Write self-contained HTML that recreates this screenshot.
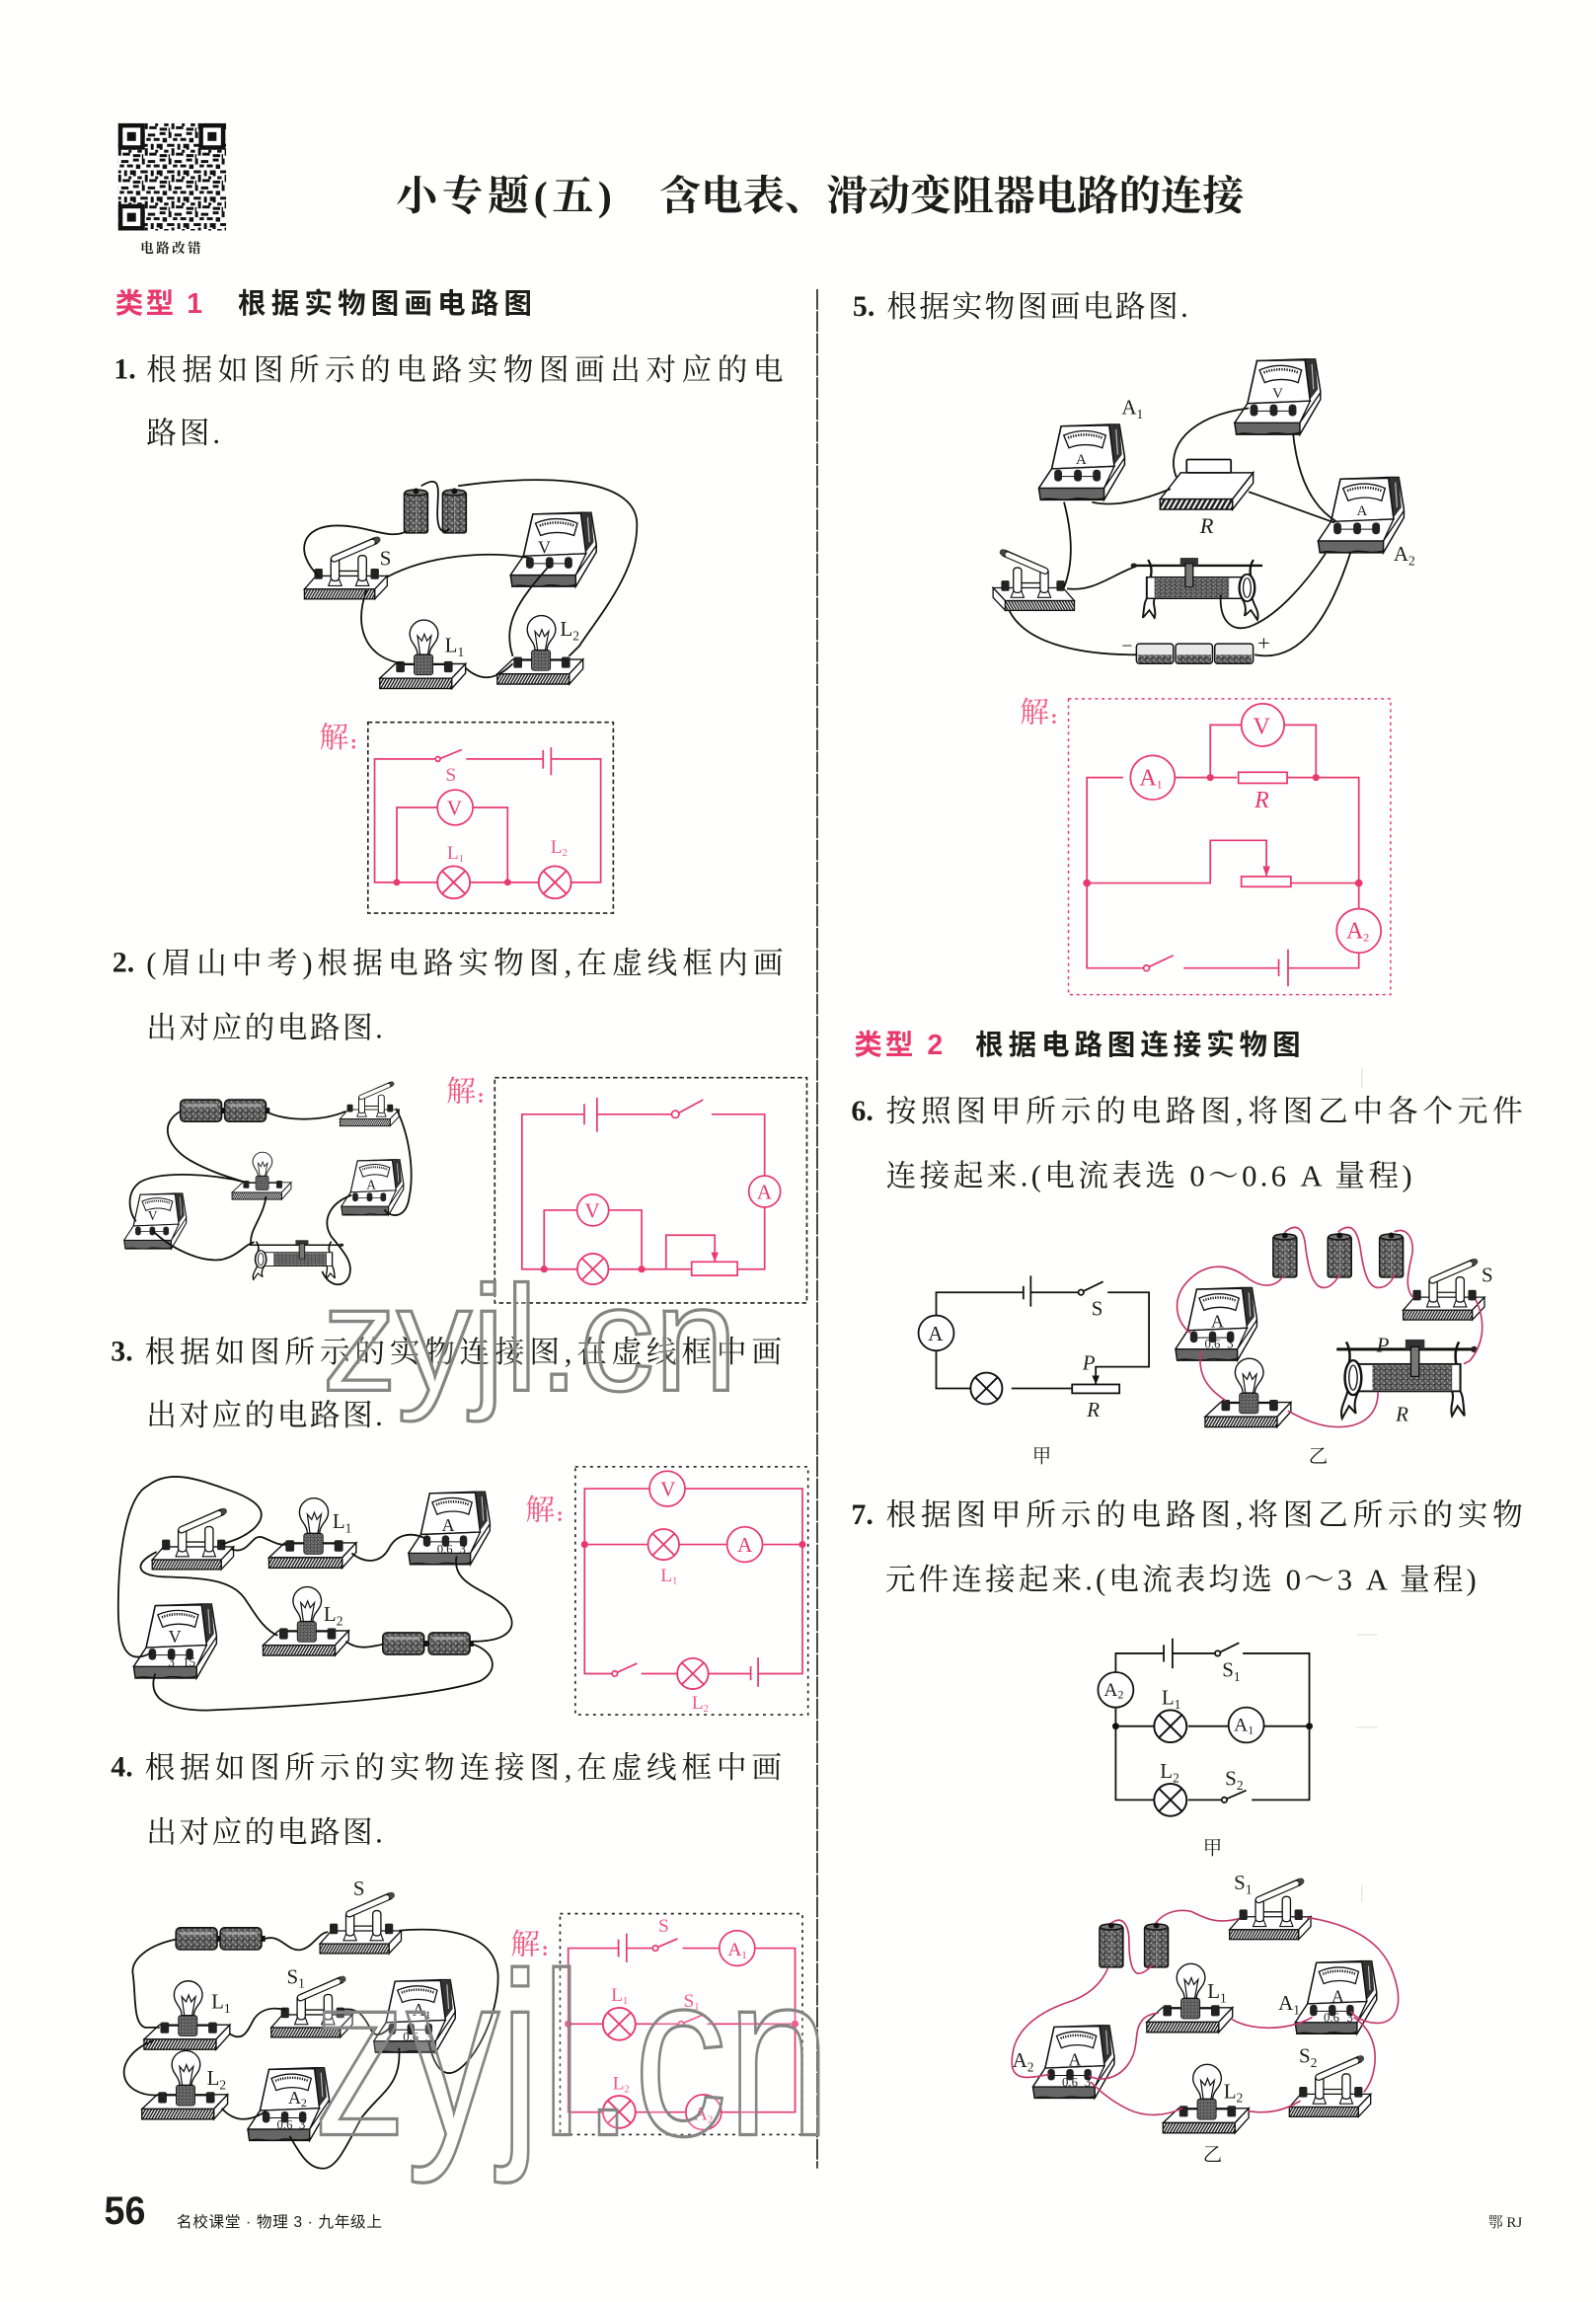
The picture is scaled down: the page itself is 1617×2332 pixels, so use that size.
<!DOCTYPE html>
<html lang="zh"><head><meta charset="utf-8"><title>小专题(五)</title>
<style>
html,body{margin:0;padding:0;background:#fffffd}
svg{display:block}
text{font-family:"Liberation Serif","Noto Serif CJK SC",serif;fill:#1c1c1c}
.b{font-size:20.5px}
.n{font-size:20px;font-weight:bold}
.t{font-size:28px;font-weight:bold}
.h{font-family:"Liberation Sans","Noto Sans CJK SC",sans-serif;font-size:19px;font-weight:bold}
.p{fill:#e8396f;font-size:19px;font-weight:bold;font-family:"Liberation Sans","Noto Sans CJK SC",sans-serif}
.j{fill:#ef5a86;font-size:20px;font-family:"Liberation Serif","Noto Serif CJK SC",serif}
.l{font-size:14px}
.s{font-size:14px;font-style:italic}
.d{font-size:8.5px;text-anchor:middle}
.pl{font-size:13px;fill:#ef5a86}
.pm{font-size:16px;fill:#e8396f}
.m{font-size:15px}
.w{fill:none;stroke:#222;stroke-width:1.1}
.r{fill:none;stroke:#e8396f;stroke-width:1.15}
.c{fill:none;stroke:#c4376b;stroke-width:1.1}
.k{fill:none;stroke:#111;stroke-width:1.2}
.wm{font-family:"Liberation Sans",sans-serif;fill:rgba(255,255,255,.2);stroke:#858585;stroke-width:2.2}
</style></head><body>
<svg xmlns="http://www.w3.org/2000/svg" width="1617" height="2332" viewBox="0 0 1080 1568" preserveAspectRatio="none">
<defs>
<pattern id="ha" width="3.5" height="12" patternUnits="userSpaceOnUse" patternTransform="skewX(-30)"><rect width="3.5" height="12" fill="#fff"/><rect width="2" height="12" fill="#222"/></pattern>
<pattern id="sp" width="4" height="4" patternUnits="userSpaceOnUse"><rect width="4" height="4" fill="#555"/><rect x="0" y="1" width="1" height="1" fill="#aaa"/><rect x="2" y="3" width="1" height="1" fill="#bbb"/><rect x="3" y="0" width="1" height="1" fill="#222"/><rect x="1" y="2" width="1" height="1" fill="#888"/></pattern>
<pattern id="qr" width="18" height="18" patternUnits="userSpaceOnUse"><rect width="18" height="18" fill="#fff"/><path fill="#111" d="M0 0h4v2h-4zM6 0h2v4h-2zM10 1h5v2h-5zM2 4h3v3h-3zM9 4h3v2h-3zM14 4h4v2h-4zM0 8h2v4h-2zM5 8h5v2h-5zM12 8h2v4h-2zM16 8h2v3h-2zM3 12h3v2h-3zM8 11h2v5h-2zM11 14h5v2h-5zM0 15h5v2h-5zM6 15h1v3h-1zM15 12h2v2h-2z"/></pattern>

<g id="sw">
<polygon points="0,-12 14,-28 100,-28 85,-12" fill="#fff" stroke="#111" stroke-width="1.6"/>
<polygon points="85,-12 100,-28 100,-16 85,0" fill="#fff" stroke="#111" stroke-width="1.6"/>
<rect x="0" y="-12" width="85" height="12" fill="url(#ha)" stroke="#111" stroke-width="1.6"/>
<rect x="12" y="-37" width="10" height="13" rx="2" fill="#222"/>
<rect x="80" y="-37" width="10" height="13" rx="2" fill="#222"/>
<line x1="40" y1="-34" x2="68" y2="-34" stroke="#111" stroke-width="1.6"/>
<polygon points="29,-16 45,-16 42,-24 32,-24" fill="#fff" stroke="#111" stroke-width="1.4"/>
<polygon points="62,-16 78,-16 75,-24 65,-24" fill="#fff" stroke="#111" stroke-width="1.4"/>
<rect x="32" y="-52" width="10" height="30" rx="4" fill="#fff" stroke="#111" stroke-width="1.6"/>
<rect x="65" y="-53" width="10" height="31" rx="4" fill="#fff" stroke="#111" stroke-width="1.6"/>
<line x1="36" y1="-49" x2="86" y2="-71" stroke="#111" stroke-width="9" stroke-linecap="round"/>
<line x1="36" y1="-49" x2="82" y2="-69" stroke="#fff" stroke-width="6" stroke-linecap="round"/>
<circle cx="88" cy="-72" r="4" fill="#444"/>
</g>

<g id="lp">
<polygon points="0,-12 18,-29 100,-29 84,-12" fill="#fff" stroke="#111" stroke-width="1.6"/>
<polygon points="84,-12 100,-29 100,-18 84,0" fill="#fff" stroke="#111" stroke-width="1.6"/>
<rect x="0" y="-12" width="84" height="12" fill="url(#ha)" stroke="#111" stroke-width="1.6"/>
<rect x="19" y="-32" width="10" height="13" rx="2" fill="#222"/>
<rect x="75" y="-32" width="10" height="13" rx="2" fill="#222"/>
<line x1="28" y1="-28" x2="76" y2="-28" stroke="#111" stroke-width="1.6"/>
<rect x="40" y="-40" width="22" height="24" rx="3" fill="url(#sp)" stroke="#111"/>
<path d="M44 -40 C44 -50 35 -54 35 -64 A16.500 16.500 0 1 1 68 -64 C68 -54 58 -50 58 -40 Z" fill="#fff" stroke="#111" stroke-width="1.6"/>
<path d="M47 -40 L44 -62 L49 -56 L52 -64 L55 -56 L60 -62 L56 -40" fill="none" stroke="#111" stroke-width="1.4"/>
</g>

<g id="mt">
<polygon points="26,4 82,2 94,2 100,40 100,50 76,92 2,92 0,78 15,55" fill="#fff" stroke="#111" stroke-width="1.8"/>
<polygon points="82,3 94,2 97,38 88,50" fill="#333"/>
<line x1="90" y1="8" x2="92" y2="38" stroke="#bbb" stroke-width="1.4"/>
<polygon points="26,4 82,3 88,52 15,55" fill="#fff" stroke="#111" stroke-width="1.8"/>
<polygon points="76,78 100,42 100,50 76,92" fill="#fff" stroke="#111" stroke-width="1.6"/>
<path d="M0 78 H76 V90 C60 94 50 88 40 91 C25 94 12 88 2 92 Z" fill="#666" stroke="#111" stroke-width="1.6"/>
<path d="M0 78 L15 55 L88 52 L76 78 Z" fill="#fff" stroke="#111" stroke-width="1.6"/>
<path d="M29 15 C45 8 62 8 78 15 L74 30 C62 25 47 25 35 30 Z" fill="#fff" stroke="#111" stroke-width="1.6"/>
<path d="M34 18 C46 13 62 13 74 18" fill="none" stroke="#111" stroke-width="3" stroke-dasharray="1.500 1.500"/>
<line x1="22" y1="64" x2="72" y2="64" stroke="#111" stroke-width="1.2"/>
<rect x="18" y="56" width="9" height="14" rx="4" fill="#222"/>
<rect x="41" y="56" width="9" height="14" rx="4" fill="#222"/>
<rect x="63" y="56" width="9" height="14" rx="4" fill="#222"/>
</g>

<g id="bv"><rect x="0" y="2" width="16" height="28" rx="1.500" fill="url(#sp)" stroke="#111"/><line x1="8" y1="3" x2="8" y2="30" stroke="#999" stroke-width=".6"/><ellipse cx="8" cy="2.500" rx="7.500" ry="2" fill="#777" stroke="#111"/><circle cx="8" cy="1.500" r="2" fill="#111"/></g>
<g id="bh"><rect x="0" y="0" width="28" height="15" rx="3" fill="url(#sp)" stroke="#111"/><rect x="3" y="3" width="22" height="2" fill="#bbb" opacity=".7"/><rect x="28" y="5.500" width="2.500" height="4" fill="#111"/></g>

<g id="rh">
<line x1="0" y1="12" x2="100" y2="12" stroke="#111" stroke-width="2.400"/>
<circle cx="100" cy="12" r="2.500" fill="#222"/>
<path d="M7 6 C10 12 10 18 9 24" fill="none" stroke="#111" stroke-width="1.800"/>
<path d="M89 6 C86 12 86 18 87 24" fill="none" stroke="#111" stroke-width="1.800"/>
<path d="M8 46 C6 55 2 60 4 68 L9 58 L14 64 C12 56 14 50 16 46" fill="#fff" stroke="#111" stroke-width="1.500"/>
<path d="M84 46 C86 53 82 58 84 66 L88 58 L93 66 C92 55 92 50 90 46" fill="#fff" stroke="#111" stroke-width="1.500"/>
<rect x="12" y="24" width="78" height="22" fill="#fff" stroke="#111" stroke-width="1.500"/>
<rect x="26" y="25" width="58" height="20" fill="url(#sp)"/>
<ellipse cx="12" cy="35" rx="6" ry="14" fill="#fff" stroke="#111" stroke-width="1.800"/>
<ellipse cx="12" cy="35" rx="3" ry="10" fill="#fff" stroke="#111" stroke-width="1"/>
<rect x="50" y="4" width="14" height="8" fill="#333"/>
<rect x="54" y="10" width="6" height="24" fill="#777" stroke="#111"/>
</g>

<g id="x"><circle r="10" fill="#fff"/><line x1="-7" y1="-7" x2="7" y2="7"/><line x1="-7" y1="7" x2="7" y2="-7"/></g>
</defs>

<rect width="1080" height="1568" fill="#fffffd"/>

<!-- faint scan marks -->
<g fill="#d8d8d8" opacity=".6">
<rect x="921" y="727" width="1" height="14"/><rect x="918" y="1113" width="14" height="1"/><rect x="918" y="1176" width="14" height="1"/><rect x="921" y="1284" width="1" height="12"/>
</g>

<!-- QR -->
<rect x="80" y="84" width="73" height="73" fill="url(#qr)"/>
<g fill="#fff" stroke="#111" stroke-width="3"><rect x="81.500" y="85.500" width="15" height="15"/><rect x="136" y="85.500" width="15" height="15"/><rect x="81.500" y="140.500" width="15" height="15"/></g>
<g fill="#111"><rect x="86" y="90" width="6" height="6"/><rect x="140.500" y="90" width="6" height="6"/><rect x="86" y="145" width="6" height="6"/></g>
<text x="95" y="172" textLength="41" lengthAdjust="spacing" style="font-size:9px;font-weight:bold">电路改错</text>

<!-- Title -->
<text class="t" x="268" y="143" textLength="146" lengthAdjust="spacing">小专题(五)</text>
<text class="t" x="446" y="143" textLength="396" lengthAdjust="spacingAndGlyphs">含电表、滑动变阻器电路的连接</text>

<line x1="553" y1="197" x2="553" y2="1477" stroke="#333" stroke-width="1.200" stroke-dasharray="14 1"/>

<!-- Left text -->
<text class="p" x="78" y="213" textLength="59" lengthAdjust="spacing">类型 1</text>
<text class="h" x="161" y="213" textLength="199" lengthAdjust="spacing">根据实物图画电路图</text>
<text class="n" x="77" y="258">1.</text>
<text class="b" x="99" y="259" textLength="431" lengthAdjust="spacing">根据如图所示的电路实物图画出对应的电</text>
<text class="b" x="99" y="302" textLength="50" lengthAdjust="spacing">路图.</text>
<text class="n" x="76" y="662">2.</text>
<text class="b" x="99" y="663" textLength="431" lengthAdjust="spacing">(眉山中考)根据电路实物图,在虚线框内画</text>
<text class="b" x="99" y="707" textLength="160" lengthAdjust="spacing">出对应的电路图.</text>
<text class="n" x="75" y="927">3.</text>
<text class="b" x="98" y="928" textLength="431" lengthAdjust="spacing">根据如图所示的实物连接图,在虚线框中画</text>
<text class="b" x="99" y="971" textLength="160" lengthAdjust="spacing">出对应的电路图.</text>
<text class="n" x="75" y="1210">4.</text>
<text class="b" x="98" y="1211" textLength="431" lengthAdjust="spacing">根据如图所示的实物连接图,在虚线框中画</text>
<text class="b" x="99" y="1255" textLength="160" lengthAdjust="spacing">出对应的电路图.</text>

<!-- Q1 objects -->
<use href="#bv" transform="translate(273.500,333)"/><use href="#bv" transform="translate(299.500,333)"/>
<use href="#sw" transform="translate(206,408) scale(.56)"/>
<use href="#mt" transform="translate(345.500,348) scale(.58,.56)"/>
<use href="#lp" transform="translate(257,469) scale(.58)"/>
<use href="#lp" transform="translate(336.500,466) scale(.58)"/>
<text x="364" y="377" style="font-size:12px">V</text>
<text class="l" x="257" y="385">S</text>
<text class="l" x="301" y="444">L<tspan font-size="9" dy="3">1</tspan></text>
<text class="l" x="379" y="433">L<tspan font-size="9" dy="3">2</tspan></text>
<g class="k">
<path d="M216 393 C198 375 205 358 228 358 C250 358 262 368 275 362"/>
<path d="M285 331 C300 322 296 335 296 350 C296 362 300 364 304 360"/>
<path d="M310 331 C350 325 432 320 431 358 C431 390 405 420 392 440 L385 447"/>
<path d="M262 393 C290 378 330 375 358 380"/>
<path d="M248 402 C240 425 245 447 272 452"/>
<path d="M315 455 C325 464 335 464 347 452"/>
<path d="M372 385 C350 410 340 425 347 447"/>
</g>
<!-- Q1 solution -->
<text class="j" x="216" y="509">解</text><text class="j" x="237" y="510" style="font-size:14px;font-weight:bold">:</text>
<g transform="translate(-1.500,0)">
<rect x="250.500" y="492" width="166" height="130" fill="none" stroke="#222" stroke-width="1.100" stroke-dasharray="3 2"/>
<g class="r">
<path d="M298.700 517 H255 V601 H408 V517 H374.400 M369 517 H317"/>
<path d="M270 601 V550 H297 M321 550 H345 V601"/>
<path d="M298.700 517 L314 510.600" />
<circle cx="297.800" cy="517" r="1.600" fill="#fff"/>
<path d="M369 511 V523.500 M374.400 509 V528"/>
<circle cx="309.500" cy="550" r="12" fill="#fff"/>
<use href="#x" transform="translate(308.500,601) scale(1.100)"/>
<use href="#x" transform="translate(377,601) scale(1.100)"/>
</g>
<g fill="#e8396f"><circle cx="270" cy="601" r="2.300"/><circle cx="345" cy="601" r="2.300"/></g>
<text class="pm" x="304" y="555" style="font-size:14px">V</text>
<text class="pl" x="303" y="532">S</text>
<text class="pl" x="304" y="585">L<tspan font-size="7" dy="2">1</tspan></text>
<text class="pl" x="374" y="581">L<tspan font-size="7" dy="2">2</tspan></text>
</g>

<!-- Q2 objects -->
<use href="#bh" transform="translate(122,749)"/><use href="#bh" transform="translate(152,749)"/>
<use href="#sw" transform="translate(230,767) scale(.4)"/>
<use href="#lp" transform="translate(157,817) scale(.4)"/>
<use href="#mt" transform="translate(84,812) scale(.42)"/>
<use href="#mt" transform="translate(231,789) scale(.42)"/>
<use href="#rh" transform="translate(169,843) scale(.62,.42)"/>
<text x="100" y="831" style="font-size:9px">V</text>
<text x="248" y="810" style="font-size:9px">A</text>
<g class="k">
<path d="M122 757 C108 765 112 780 128 790 C140 797 152 801 165 805"/>
<path d="M180 757 C190 763 215 765 234 757"/>
<path d="M268 755 C278 775 280 800 277 815 C275 830 265 830 260 824"/>
<path d="M165 805 C145 800 110 797 95 805 C85 812 87 825 92 832"/>
<path d="M180 815 C178 830 168 838 170 848"/>
<path d="M103 838 C115 850 135 860 150 858 C162 855 165 848 172 846"/>
<path d="M238 814 C222 820 218 832 224 842 C232 852 240 860 236 870 C232 878 222 876 218 866"/>
</g>
<!-- Q2 solution -->
<rect x="334.800" y="734" width="211.200" height="153.500" fill="none" stroke="#222" stroke-width="1.100" stroke-dasharray="3 2"/>
<text class="j" x="302" y="750">解</text><text class="j" x="323" y="751" style="font-size:14px;font-weight:bold">:</text>
<g transform="translate(-.8,0)">
<g class="r">
<path d="M396 759 H354 V864.500 H391 M413 864.500 H451.500 V841.300 H484.500 V859.500 M405 759 H458.400 M482.300 759 H518.200 V801 M518.200 822 V864.500 H499.600 M468.800 864.500 H451"/>
<path d="M458.400 759 L476.600 749"/>
<circle cx="457.800" cy="759" r="2.500" fill="#fff"/>
<path d="M396.200 752 V766 M404.800 747.700 V771"/>
<circle cx="518.200" cy="811.600" r="10.700" fill="#fff"/>
<path d="M369 864.500 V824.300 H392 M413 824.300 H435 V864.500"/>
<circle cx="402" cy="824.300" r="10.700" fill="#fff"/>
<use href="#x" transform="translate(402,864.400) scale(1.050)"/>
<rect x="468.800" y="859.500" width="31" height="9.300" fill="#fff"/>
</g>
<g fill="#e8396f"><circle cx="369" cy="864.500" r="2.400"/><circle cx="435" cy="864.500" r="2.400"/><polygon points="484.500,859.500 482,853 487,853"/></g>
<text class="pm" x="396.500" y="829.500" style="font-size:14px">V</text>
<text class="pm" x="513" y="816.500" style="font-size:14px">A</text>
</g>

<!-- Q3 objects -->
<use href="#sw" transform="translate(103,1069) scale(.55)"/>
<use href="#lp" transform="translate(182,1068) scale(.59)"/>
<use href="#mt" transform="translate(276.500,1015) scale(.55)"/>
<use href="#mt" transform="translate(90.500,1091.500) scale(.56)"/>
<use href="#lp" transform="translate(178,1127.600) scale(.58)"/>
<use href="#bh" transform="translate(259,1112)"/><use href="#bh" transform="translate(290,1112)"/>
<text class="l" x="225" y="1041">L<tspan font-size="9" dy="3">1</tspan></text>
<text class="l" x="219" y="1104">L<tspan font-size="9" dy="3">2</tspan></text>
<text x="299" y="1043" style="font-size:12px">A</text>
<text x="114" y="1119" style="font-size:12px">V</text>
<text class="d" x="301" y="1058">0.6</text><text class="d" x="313" y="1058">3</text>
<text class="d" x="116" y="1135">3</text><text class="d" x="128" y="1135">15</text>
<g class="k">
<path d="M102 1126 C85 1135 80 1120 80 1095 C80 1060 85 1020 100 1012 C115 1000 135 1008 155 1015 C175 1022 182 1030 173 1040 C165 1048 155 1050 150 1052"/>
<path d="M156 1055 C168 1060 170 1045 177 1047 C183 1049 188 1053 194 1052"/>
<path d="M238 1058 C248 1066 258 1064 263 1055 C268 1045 278 1043 288 1048"/>
<path d="M309 1060 C305 1080 330 1082 342 1095 C352 1108 345 1118 320 1118"/>
<path d="M106 1057 C90 1065 92 1073 110 1074 C135 1075 155 1075 165 1088 C172 1098 178 1110 188 1114"/>
<path d="M234 1118 C242 1124 250 1122 259 1120"/>
<path d="M320 1120 C335 1125 338 1138 325 1145 C290 1157 190 1163 140 1165 C110 1165 100 1155 105 1140"/>
</g>
<!-- Q3 solution -->
<rect x="389.300" y="999" width="157.500" height="169" fill="none" stroke="#222" stroke-width="1.100" stroke-dasharray="2 3"/>
<text class="j" x="355.500" y="1035">解</text><text class="j" x="376.500" y="1036" style="font-size:14px;font-weight:bold">:</text>
<g class="r">
<path d="M416 1140 H395.600 V1014 H440 M463 1014 H543 V1140 H513 M508 1140 H479 M458 1140 H434"/>
<path d="M395.600 1052 H438 M459 1052 H493 M516 1052 H543"/>
<path d="M416 1140 L431 1133"/>
<circle cx="416" cy="1140" r="1.800" fill="#fff"/>
<circle cx="451.500" cy="1014" r="12" fill="#fff"/>
<circle cx="504" cy="1052" r="12" fill="#fff"/>
<use href="#x" transform="translate(449,1052) scale(1.050)"/>
<use href="#x" transform="translate(468.800,1140) scale(1.050)"/>
<path d="M508 1135 V1144.500 M513 1129 V1149"/>
</g>
<g fill="#e8396f"><circle cx="395.600" cy="1052" r="2.400"/><circle cx="543" cy="1052" r="2.400"/></g>
<text class="pm" x="447" y="1019" style="font-size:14px">V</text>
<text class="pm" x="499" y="1057" style="font-size:14px">A</text>
<text class="pl" x="447" y="1077">L<tspan font-size="7" dy="2">1</tspan></text>
<text class="pl" x="468" y="1164">L<tspan font-size="7" dy="2">2</tspan></text>

<!-- Q4 objects -->
<use href="#bh" transform="translate(119,1313)"/><use href="#bh" transform="translate(149,1313)"/>
<use href="#sw" transform="translate(216.500,1330.600) scale(.55)"/>
<use href="#sw" transform="translate(183.500,1387.700) scale(.55)"/>
<use href="#lp" transform="translate(97.500,1396) scale(.58)"/>
<use href="#lp" transform="translate(96,1443.500) scale(.58)"/>
<use href="#mt" transform="translate(253,1347.400) scale(.55)"/>
<use href="#mt" transform="translate(167.700,1407.400) scale(.55)"/>
<text class="l" x="239" y="1291">S</text>
<text class="l" x="194" y="1351">S<tspan font-size="9" dy="3">1</tspan></text>
<text class="l" x="143" y="1368">L<tspan font-size="9" dy="3">1</tspan></text>
<text class="l" x="140" y="1420">L<tspan font-size="9" dy="3">2</tspan></text>
<text x="279" y="1373" style="font-size:12px">A<tspan font-size="8" dy="2">1</tspan></text>
<text x="195" y="1433" style="font-size:12px">A<tspan font-size="8" dy="2">2</tspan></text>
<text class="d" x="278" y="1390">0.6</text><text class="d" x="290" y="1390">3</text>
<text class="d" x="192.700" y="1450">0.6</text><text class="d" x="204.500" y="1450">3</text>
<g class="k">
<path d="M119 1321 C100 1325 88 1335 90 1345 C92 1360 90 1378 98 1381 L108 1381"/>
<path d="M178 1321 C190 1316 194 1330 204 1328 C212 1326 216 1316 222 1316"/>
<path d="M270 1315 C305 1312 335 1318 337 1345 C338 1375 318 1410 305 1412 C296 1413 292 1400 290 1390"/>
<path d="M104 1390 C90 1395 83 1405 84 1413 C85 1422 95 1428 108 1427"/>
<path d="M155 1385 C165 1392 168 1382 172 1375 C177 1368 185 1367 193 1369"/>
<path d="M231 1369 C245 1366 248 1378 252 1384 C255 1388 260 1385 264 1381"/>
<path d="M150 1436 C158 1445 168 1446 180 1438"/>
<path d="M270 1395 C272 1420 258 1425 245 1442 C235 1460 228 1478 218 1477 C208 1477 202 1465 196 1455"/>
</g>
<!-- Q4 solution -->
<text class="j" x="345.500" y="1331">解</text><text class="j" x="366.500" y="1332" style="font-size:14px;font-weight:bold">:</text>
<g transform="translate(-1.500,0)">
<rect x="380.500" y="1303.500" width="164" height="150.500" fill="none" stroke="#222" stroke-width="1.100" stroke-dasharray="2 3"/>
<g class="r">
<path d="M420 1327 H386 V1438.700 H409 M431 1438.700 H465 M489 1438.700 H539.500 V1327 H512 M488 1327 H463.400 M445 1327 H425.500"/>
<path d="M386 1378.600 H409 M431 1378.600 H462.400 M480 1378.600 H539.500"/>
<path d="M445 1327 L460 1320.500 M462.400 1378.600 L476.600 1372.600"/>
<circle cx="445" cy="1327" r="1.800" fill="#fff"/><circle cx="462.400" cy="1378.600" r="1.800" fill="#fff"/>
<path d="M420 1321 V1333 M425.500 1317 V1336.600"/>
<circle cx="500.300" cy="1327" r="12" fill="#fff"/>
<circle cx="477.600" cy="1438.700" r="12" fill="#fff"/>
<use href="#x" transform="translate(420.500,1378.600) scale(1.100)"/>
<use href="#x" transform="translate(420.500,1438.500) scale(1.100)"/>
</g>
<g fill="#e8396f"><circle cx="386" cy="1378.600" r="2.400"/><circle cx="539.500" cy="1378.600" r="2.400"/></g>
<text class="pl" x="447" y="1316">S</text>
<text class="pl" x="415" y="1363">L<tspan font-size="7" dy="2">1</tspan></text>
<text class="pl" x="464" y="1367">S<tspan font-size="7" dy="2">1</tspan></text>
<text class="pl" x="416" y="1423">L<tspan font-size="7" dy="2">2</tspan></text>
<text class="pm" x="494" y="1332" style="font-size:13px">A<tspan font-size="7" dy="2">1</tspan></text>
<text class="pm" x="471" y="1444" style="font-size:13px">A<tspan font-size="7" dy="2">2</tspan></text>
</g>

<!-- Right column -->
<text class="n" x="577" y="215">5.</text>
<text class="b" x="600" y="216" textLength="204" lengthAdjust="spacing">根据实物图画电路图.</text>

<!-- Q5 objects -->
<use href="#mt" transform="translate(835.500,243.500) scale(.58,.57)"/>
<use href="#mt" transform="translate(703,288) scale(.58,.57)"/>
<use href="#mt" transform="translate(892,324) scale(.58,.57)"/>
<polygon points="785,340 799,322 848,322 834,340" fill="#fff" stroke="#111"/>
<polygon points="834,340 848,322 848,329 834,347" fill="#fff" stroke="#111"/>
<rect x="785" y="340" width="49" height="7" fill="url(#ha)" stroke="#111"/>
<rect x="803" y="313" width="30" height="9" rx="1" fill="#fff" stroke="#111" stroke-width="1.200"/>
<use href="#sw" transform="translate(727,415.800) scale(-.55,.55)"/>
<use href="#rh" transform="translate(854.300,377.300) scale(-.87,.66)"/>
<g>
<rect x="769" y="438.500" width="25" height="13.500" rx="2" fill="#e8e8e8" stroke="#111"/><rect x="795.500" y="438.500" width="25" height="13.500" rx="2" fill="#e8e8e8" stroke="#111"/><rect x="822" y="438.500" width="26" height="13.500" rx="2" fill="#e8e8e8" stroke="#111"/>
<rect x="770" y="446" width="23" height="5.500" fill="url(#sp)"/><rect x="796.500" y="446" width="23" height="5.500" fill="url(#sp)"/><rect x="823" y="446" width="24" height="5.500" fill="url(#sp)"/>
</g>
<text x="759" y="444" style="font-size:13px">−</text>
<text x="851" y="443" style="font-size:15px">+</text>
<text class="l" x="759" y="282">A<tspan font-size="9" dy="3">1</tspan></text>
<text class="l" x="943" y="382">A<tspan font-size="9" dy="3">2</tspan></text>
<text class="s" x="812" y="363" style="font-size:15px">R</text>
<text x="728" y="316" style="font-size:10px">A</text>
<text x="861" y="271" style="font-size:10px">V</text>
<text x="918" y="351" style="font-size:10px">A</text>
<g class="k">
<path d="M720 342 C726 365 726 385 720 400"/>
<path d="M739 342 C755 346 775 340 792 333"/>
<path d="M796 325 C788 305 805 283 845 278"/>
<path d="M875 295 C878 325 888 345 904 355"/>
<path d="M845 335 L903 356"/>
<path d="M722 401 C740 403 750 393 768 386"/>
<path d="M826 405 C825 425 835 430 845 427 C865 420 885 395 897 377"/>
<path d="M683 416 C695 440 735 446 769 446"/>
<path d="M849 446 C880 452 900 420 914 376"/>
</g>
<!-- Q5 solution -->
<text class="j" x="690" y="492">解</text><text class="j" x="711" y="493" style="font-size:14px;font-weight:bold">:</text>
<g transform="translate(-5,0)">
<rect x="728" y="476" width="218" height="201.500" fill="none" stroke="#e8396f" stroke-width="1" stroke-dasharray="2 2.500"/>
<g class="r">
<path d="M765 529.600 H740.500 V659.400 H780.800 M795 529.600 H842 M875 529.600 H924.500 V619 M924.500 649 V659.400 H876.600 M870.300 659.400 H806 "/>
<path d="M824 529.600 V493.800 H845 M874 493.800 H895.500 V529.600"/>
<path d="M740.500 601.500 H824 V572.400 H862 V597 M877 601.500 H924.500"/>
<path d="M780.800 659.400 L799 650.700"/>
<circle cx="780.800" cy="659.400" r="2" fill="#fff"/>
<path d="M870.300 653.300 V665 M876.600 646.600 V671.800"/>
<circle cx="859.500" cy="493.800" r="14.500" fill="#fff"/>
<circle cx="785" cy="529.600" r="15" fill="#fff"/>
<circle cx="924.500" cy="634" r="15" fill="#fff"/>
<rect x="843" y="526" width="33" height="7.500" fill="#fff"/>
<rect x="845" y="597" width="33.500" height="7" fill="#fff"/>
</g>
<g fill="#e8396f"><circle cx="824" cy="529.600" r="2.400"/><circle cx="895.500" cy="529.600" r="2.400"/><circle cx="740.500" cy="601.500" r="2.600"/><circle cx="924.500" cy="601.500" r="2.600"/><polygon points="862,597 859.500,590 864.500,590"/></g>
<text class="pm" x="853" y="500">V</text>
<text class="pm" x="776" y="535">A<tspan font-size="8" dy="2">1</tspan></text>
<text class="pm" x="916" y="639">A<tspan font-size="8" dy="2">2</tspan></text>
<text class="pm" x="854" y="550" font-style="italic">R</text>
</g>

<text class="p" x="578" y="718" textLength="60" lengthAdjust="spacing">类型 2</text>
<text class="h" x="660" y="718" textLength="220" lengthAdjust="spacing">根据电路图连接实物图</text>
<text class="n" x="576" y="763">6.</text>
<text class="b" x="599.500" y="764" textLength="431" lengthAdjust="spacing">按照图甲所示的电路图,将图乙中各个元件</text>
<text class="b" x="599.500" y="808" textLength="356" lengthAdjust="spacing">连接起来.(电流表选 0～0.6 A 量程)</text>

<g transform="translate(-4.500,0)">
<!-- Q6 jia -->
<g class="k">
<path d="M638 896 V880.300 H697 M702 880.300 H736 M754 880.300 H782 V931 H746 V942.600 M638 920 V945.700 H667 M689 945.700 H730"/>
<path d="M736 880.300 L751 873"/>
<path d="M697 876 V885 M702 869 V890"/>
<circle cx="736" cy="880.300" r="1.800" fill="#fff"/>
<circle cx="638" cy="908" r="12" fill="#fff"/>
<use href="#x" transform="translate(672,945.700) scale(1.070)"/>
<rect x="730" y="943" width="32" height="6" fill="#fff"/>
</g>
<polygon points="746,943 743.500,937 748.500,937" fill="#111"/>
<text x="632.500" y="913" style="font-size:14px">A</text>
<text class="l" x="743" y="896">S</text>
<text class="s" x="737" y="933">P</text>
<text class="s" x="740" y="965">R</text>
<text x="703" y="996" style="font-size:13px">甲</text>
<text x="890" y="996" style="font-size:13px">乙</text>

<!-- Q6 yi -->
<use href="#bv" transform="translate(866,840)"/><use href="#bv" transform="translate(903,840)"/><use href="#bv" transform="translate(938,840)"/>
<use href="#sw" transform="translate(954,899) scale(.55)"/>
<use href="#mt" transform="translate(800,876) scale(.55)"/>
<use href="#lp" transform="translate(820,972) scale(.58)"/>
<use href="#rh" transform="translate(909,909) scale(.93,.84)"/>
<text class="l" x="1007" y="873">S</text>
<text x="824" y="904" style="font-size:12px">A</text>
<text class="d" x="825" y="918">0.6</text><text class="d" x="837" y="918">3</text>
<text class="s" x="936" y="921">P</text>
<text class="s" x="949" y="968">R</text>
<g class="c">
<path d="M810 908 C800 900 797 885 808 873 C820 860 835 860 848 870 C857 877 867 878 873 869"/>
<path d="M874 839 C883 832 887 838 888 850 C890 865 893 878 901 877 C905 877 909 872 911 868"/>
<path d="M910 839 C919 832 923 838 925 850 C927 865 930 878 938 877 C943 877 947 872 948 868"/>
<path d="M948 839 C957 835 962 845 960 855 C957 868 955 878 961 884"/>
<path d="M1003 885 C1010 900 1009 915 999 927 L995 929"/>
<path d="M937 948 C937 965 925 972 910 972 C897 972 885 966 876 961"/>
<path d="M834 954 C820 945 815 935 817 920"/>
</g>
</g>

<text class="n" x="576" y="1038">7.</text>
<text class="b" x="599.500" y="1039" textLength="431" lengthAdjust="spacing">根据图甲所示的电路图,将图乙所示的实物</text>
<text class="b" x="599" y="1083" textLength="400" lengthAdjust="spacing">元件连接起来.(电流表均选 0～3 A 量程)</text>

<g transform="translate(-5,0)">
<!-- Q7 jia -->
<g class="k">
<path d="M760 1139 V1126.200 H792.500 M798 1126.200 H828 M846 1126.200 H891 V1226 H852 M760 1163 V1226 H787 M809 1226 H833"/>
<path d="M760 1175.800 H787 M809 1175.800 H836 M860 1175.800 H891"/>
<path d="M829 1126.200 L843.500 1119 M833.500 1226 L848.300 1219.500"/>
<path d="M792.500 1120.400 V1132 M798.400 1116 V1136.400"/>
<circle cx="829" cy="1126.200" r="1.800" fill="#fff"/><circle cx="833.500" cy="1226" r="1.800" fill="#fff"/>
<circle cx="760" cy="1151" r="12" fill="#fff"/>
<circle cx="848.300" cy="1175" r="12" fill="#fff"/>
<use href="#x" transform="translate(797,1175.800) scale(1.100)"/>
<use href="#x" transform="translate(797,1226) scale(1.100)"/>
</g>
<g fill="#111"><circle cx="760" cy="1175.800" r="2.300"/><circle cx="891" cy="1175.800" r="2.300"/></g>
<text x="752" y="1155" style="font-size:13px">A<tspan font-size="8" dy="2">2</tspan></text>
<text x="840" y="1179" style="font-size:13px">A<tspan font-size="8" dy="2">1</tspan></text>
<text class="l" x="832" y="1142">S<tspan font-size="9" dy="3">1</tspan></text>
<text class="l" x="791" y="1161">L<tspan font-size="9" dy="3">1</tspan></text>
<text class="l" x="790" y="1211">L<tspan font-size="9" dy="3">2</tspan></text>
<text class="l" x="834" y="1216">S<tspan font-size="9" dy="3">2</tspan></text>
<text x="819" y="1263" style="font-size:13px">甲</text>

<!-- Q7 yi -->
<use href="#bv" transform="translate(749,1310)"/><use href="#bv" transform="translate(779.500,1310)"/>
<use href="#sw" transform="translate(837,1321) scale(.55)"/>
<use href="#lp" transform="translate(781,1384.300) scale(.58)"/>
<use href="#mt" transform="translate(881.500,1334.700) scale(.55)"/>
<use href="#mt" transform="translate(704,1378.500) scale(.55)"/>
<use href="#sw" transform="translate(877.500,1441.800) scale(.55)"/>
<use href="#lp" transform="translate(792,1452.900) scale(.58)"/>
<text class="l" x="840" y="1287">S<tspan font-size="9" dy="3">1</tspan></text>
<text class="l" x="822" y="1361">L<tspan font-size="9" dy="3">1</tspan></text>
<text class="l" x="870" y="1369">A<tspan font-size="9" dy="3">1</tspan></text>
<text x="906" y="1364" style="font-size:12px">A</text>
<text class="d" x="906" y="1377">0.6</text><text class="d" x="918.500" y="1377">3</text>
<text class="l" x="690" y="1408">A<tspan font-size="9" dy="3">2</tspan></text>
<text x="728" y="1407" style="font-size:12px">A</text>
<text class="d" x="729" y="1421">0.6</text><text class="d" x="741" y="1421">3</text>
<text class="l" x="884" y="1405">S<tspan font-size="9" dy="3">2</tspan></text>
<text class="l" x="833" y="1429">L<tspan font-size="9" dy="3">2</tspan></text>
<text x="819" y="1472" style="font-size:13px">乙</text>
<g class="c">
<path d="M757 1310 C765 1304 769 1312 769 1322 C769 1335 771 1346 777 1344 C781 1343 783 1340 785 1338"/>
<path d="M787 1310 C793 1302 803 1300 811 1302 C820 1306 827 1311 843 1307"/>
<path d="M889 1306 C915 1310 940 1320 948 1345 C955 1365 950 1378 937 1378 C930 1378 923 1375 919 1370"/>
<path d="M755 1340 C750 1352 740 1360 727 1364 C710 1370 695 1380 691 1395 C688 1408 690 1415 700 1415 C705 1415 710 1414 715 1413"/>
<path d="M742 1414 C750 1418 760 1416 767 1408 C775 1398 773 1390 775 1382 C777 1375 781 1372 789 1371"/>
<path d="M838 1375 C850 1383 875 1384 893 1374"/>
<path d="M921 1374 C933 1382 937 1395 935 1408 C934 1415 932 1420 928 1425"/>
<path d="M885 1431 C873 1438 863 1440 850 1438"/>
<path d="M805 1436 C795 1441 780 1443 767 1436 C757 1431 750 1425 743 1418"/>
</g>
</g>

<!-- Footer -->
<text x="70.500" y="1515" style="font-family:'Liberation Sans',sans-serif;font-size:27px;font-weight:bold" textLength="28" lengthAdjust="spacingAndGlyphs">56</text>
<text x="119.500" y="1517" style="font-family:'Liberation Sans','Noto Sans CJK SC',sans-serif;font-size:10.500px" textLength="139" lengthAdjust="spacing">名校课堂 · 物理 3 · 九年级上</text>
<text x="1007" y="1517" style="font-size:10px">鄂 RJ</text>

<!-- Watermarks -->
<text class="wm" x="218" y="947" font-size="102" textLength="281" lengthAdjust="spacingAndGlyphs">zyjl.cn</text>
<text class="wm" x="212" y="1454" font-size="158" textLength="350" lengthAdjust="spacingAndGlyphs">zyjl.cn</text>
</svg>
</body></html>
